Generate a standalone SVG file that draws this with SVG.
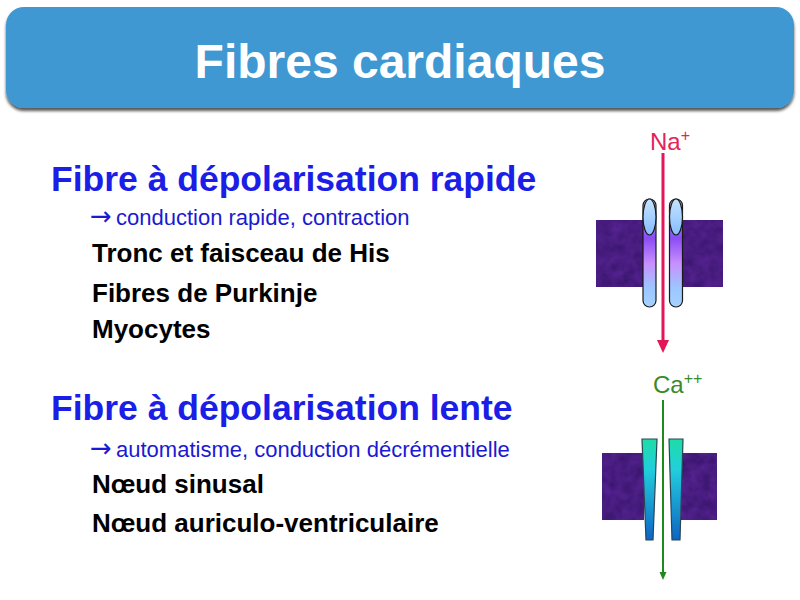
<svg xmlns="http://www.w3.org/2000/svg" width="800" height="600" viewBox="0 0 800 600">
  <style>
    text { font-family: "Liberation Sans", Arial, sans-serif; }
    .title { font-size: 48px; font-weight: bold; fill: #ffffff; }
    .head { font-size: 35.5px; font-weight: bold; fill: #1B1EE6; }
    .sub { font-size: 22px; fill: #1A1AD2; }
    .arrow { font-family: "DejaVu Sans", sans-serif; font-size: 26px; }
    .item { font-size: 26px; font-weight: bold; fill: #000000; }
    .ion { font-size: 24px; }
    .membrane { fill: #4B1C7F; }
    .chan { stroke: #1a1a1a; stroke-width: 1.2; }
    .cachan { stroke: #2A4656; stroke-width: 1.2; }
  </style>
  <defs>
    <filter id="shadow" x="-5%" y="-10%" width="110%" height="130%">
      <feDropShadow dx="0" dy="3" stdDeviation="1.5" flood-color="#000000" flood-opacity="0.65"/>
    </filter>
    <filter id="tex" x="0" y="0" width="100%" height="100%" color-interpolation-filters="sRGB">
      <feTurbulence type="fractalNoise" baseFrequency="0.09" numOctaves="3" seed="7" result="n"/>
      <feColorMatrix in="n" type="matrix" values="0.16 0 0 0 0.2  0.08 0 0 0 0.07  0.2 0 0 0 0.4  0 0 0 0 1" result="c"/>
      <feComposite in="c" in2="SourceGraphic" operator="in"/>
    </filter>
    <linearGradient id="naBody" x1="0" y1="0" x2="0" y2="1">
      <stop offset="0" stop-color="#A8D4FF"/>
      <stop offset="0.36" stop-color="#8A4CF4"/>
      <stop offset="0.6" stop-color="#C890FF"/>
      <stop offset="0.82" stop-color="#9CC6FF"/>
      <stop offset="1" stop-color="#A6D2FF"/>
    </linearGradient>
    <linearGradient id="naCap" x1="0" y1="0" x2="0" y2="1">
      <stop offset="0" stop-color="#C6E4FF"/>
      <stop offset="1" stop-color="#86BCFF"/>
    </linearGradient>
    <linearGradient id="caBody" x1="0" y1="0" x2="0" y2="1">
      <stop offset="0" stop-color="#1EDDA6"/>
      <stop offset="0.3" stop-color="#22CEDC"/>
      <stop offset="1" stop-color="#0E64C4"/>
    </linearGradient>
  </defs>

  <g id="header">
    <rect x="6" y="7" width="788" height="101" rx="18" fill="#3F98D3" filter="url(#shadow)"/>
    <text class="title" x="400" y="78" text-anchor="middle">Fibres cardiaques</text>
  </g>

  <g id="fast-fibre">
    <text class="head" x="51" y="191">Fibre à dépolarisation rapide</text>
    <text class="sub" x="90" y="225"><tspan class="arrow">→</tspan><tspan x="116">conduction rapide, contraction</tspan></text>
    <text class="item" x="92" y="262">Tronc et faisceau de His</text>
    <text class="item" x="92" y="302">Fibres de Purkinje</text>
    <text class="item" x="92" y="338">Myocytes</text>
  </g>

  <g id="slow-fibre">
    <text class="head" x="51" y="420">Fibre à dépolarisation lente</text>
    <text class="sub" x="90" y="457"><tspan class="arrow">→</tspan><tspan x="116">automatisme, conduction décrémentielle</tspan></text>
    <text class="item" x="92" y="493">Nœud sinusal</text>
    <text class="item" x="92" y="532">Nœud auriculo-ventriculaire</text>
  </g>

  <g id="na-channel">
    <rect class="membrane" x="596" y="220" width="48" height="67" filter="url(#tex)"/>
    <rect class="membrane" x="682" y="220" width="41" height="67" filter="url(#tex)"/>
    <rect class="chan" x="643" y="199" width="13" height="108" rx="6.5" fill="url(#naBody)"/>
    <ellipse class="chan" cx="649.5" cy="217" rx="6.5" ry="18" fill="url(#naCap)"/>
    <rect class="chan" x="669.5" y="199" width="13" height="108" rx="6.5" fill="url(#naBody)"/>
    <ellipse class="chan" cx="676" cy="217" rx="6.5" ry="18" fill="url(#naCap)"/>
    <text class="ion" x="650" y="150" fill="#E2245A">Na<tspan font-size="16" dy="-9">+</tspan></text>
  </g>

  <g id="ca-channel">
    <rect class="membrane" x="602" y="453" width="42" height="67" filter="url(#tex)"/>
    <rect class="membrane" x="681" y="453" width="36" height="67" filter="url(#tex)"/>
    <polygon class="cachan" points="642,439 657,439 653,540 646,540" fill="url(#caBody)"/>
    <polygon class="cachan" points="669,439 683,439 680,540 672,540" fill="url(#caBody)"/>
    <text class="ion" x="653" y="393" fill="#3B8A2B">Ca<tspan font-size="16" dy="-9">++</tspan></text>
  </g>

  <g id="connectors">
    <line x1="663" y1="153" x2="663" y2="342" stroke="#E2175A" stroke-width="3"/>
    <polygon points="657,340 669,340 663,353" fill="#E2175A"/>
    <line x1="663" y1="400" x2="663" y2="573" stroke="#1E8A1E" stroke-width="2"/>
    <polygon points="659.5,572 666.5,572 663,580" fill="#1E8A1E"/>
  </g>
</svg>
